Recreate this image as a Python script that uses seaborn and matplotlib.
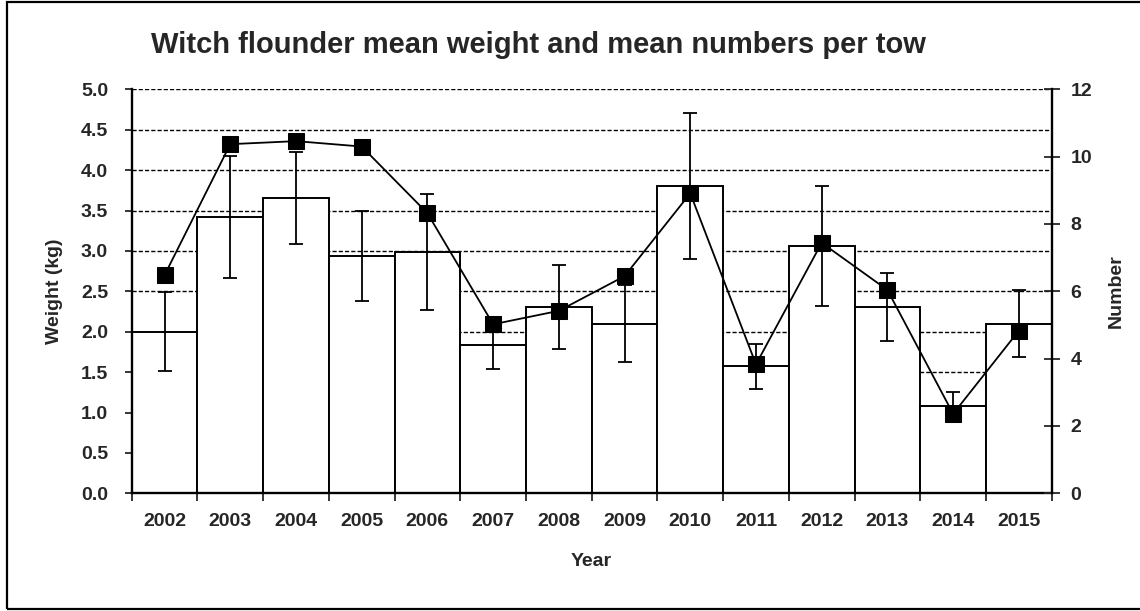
import numpy as np
import pandas as pd
import matplotlib
matplotlib.use("Agg")
import matplotlib.pyplot as plt
from matplotlib.patches import Rectangle
from matplotlib.ticker import FixedLocator, NullFormatter
import seaborn as sns

years = ["2002", "2003", "2004", "2005", "2006", "2007", "2008",
         "2009", "2010", "2011", "2012", "2013", "2014", "2015"]
weight = [2.00, 3.42, 3.65, 2.94, 2.99, 1.835, 2.31, 2.10, 3.80, 1.57, 3.06, 2.31, 1.08, 2.10]
weight_err = [0.49, 0.75, 0.57, 0.555, 0.72, 0.30, 0.52, 0.475, 0.905, 0.28, 0.745, 0.42, 0.17, 0.415]
numbers = [6.48, 10.37, 10.46, 10.30, 8.32, 5.02, 5.42, 6.45, 8.91, 3.83, 7.44, 6.04, 2.36, 4.83]

left_ticks = [0.0, 0.5, 1.0, 1.5, 2.0, 2.5, 3.0, 3.5, 4.0, 4.5, 5.0]
right_ticks = [0, 2, 4, 6, 8, 10, 12]

sns.set_style("white")
plt.rcParams["font.family"] = ["Liberation Sans", "DejaVu Sans"]
plt.rcParams["font.weight"] = "bold"
plt.rcParams["axes.labelweight"] = "bold"

FS = 14
W, H = 1140, 611
fig = plt.figure(figsize=(W / 100, H / 100), dpi=100)
ax = fig.add_axes([131.7 / W, 1 - 493.3 / H, 920 / W, 404 / H])

df = pd.DataFrame({"year": years, "weight": weight})
sns.barplot(data=df, x="year", y="weight", color="white", edgecolor="black",
            linewidth=1.4, width=1.0, saturation=1, errorbar=None, ax=ax, zorder=2)
pos = np.arange(len(years))
ax.errorbar(pos, weight, yerr=weight_err, fmt="none", ecolor="black",
            elinewidth=1.3, capsize=5, capthick=1.3, zorder=3)

ax.set_xlim(-0.5, len(years) - 0.5)
ax.set_ylim(0, 5.0)
ax.set_yticks(left_ticks)
ax.set_yticklabels([f"{t:.1f}" for t in left_ticks])
ax.yaxis.grid(True, color="black", linestyle=(0, (3, 1.5)), linewidth=1.0)
ax.xaxis.grid(False)
ax.set_axisbelow(True)

# x ticks at category boundaries, labels at centers
ax.xaxis.set_major_locator(FixedLocator(np.arange(-0.5, len(years), 1.0)))
ax.xaxis.set_major_formatter(NullFormatter())
ax.xaxis.set_minor_locator(FixedLocator(pos))
ax.set_xticklabels(years, minor=True)
ax.tick_params(axis="x", which="major", direction="out", length=6, width=1.3, bottom=True)
ax.tick_params(axis="x", which="minor", length=0, pad=14, labelsize=FS)
ax.tick_params(axis="y", direction="out", length=5, width=1.3, pad=12, labelsize=FS, left=True)

for s in ["left", "bottom"]:
    ax.spines[s].set_linewidth(1.7)
    ax.spines[s].set_color("black")
ax.spines["top"].set_visible(False)
ax.spines["right"].set_visible(False)

ax.set_xlabel("Year", fontsize=FS, fontweight="bold", labelpad=17)
ax.set_ylabel("Weight (kg)", fontsize=FS, fontweight="bold", labelpad=13)

ax2 = ax.twinx()
sns.lineplot(x=pos, y=numbers, ax=ax2, color="black", linewidth=1.3,
             marker="s", markersize=11, markeredgecolor="black", zorder=4)
ax2.set_ylim(0, 12)
ax2.set_yticks(right_ticks)
ax2.set_yticklabels([str(t) for t in right_ticks])
ax2.tick_params(axis="y", direction="inout", length=11, width=1.3, pad=8, labelsize=FS, right=True)
ax2.spines["right"].set_linewidth(1.7)
ax2.spines["right"].set_color("black")
for s in ["top", "left", "bottom"]:
    ax2.spines[s].set_visible(False)
ax2.set_ylabel("Number", fontsize=FS, fontweight="bold", labelpad=11)
ax2.grid(False)

fig.text(538.5 / W, 1 - 53 / H, "Witch flounder mean weight and mean numbers per tow",
         ha="center", va="baseline", fontsize=21, fontweight="bold")

fig.patches.append(Rectangle((7 / W, 2 / H), 1.0, (607) / H, transform=fig.transFigure,
                             fill=False, edgecolor="black", linewidth=1.6))

fig.savefig("out.png", dpi=100, facecolor="white")
